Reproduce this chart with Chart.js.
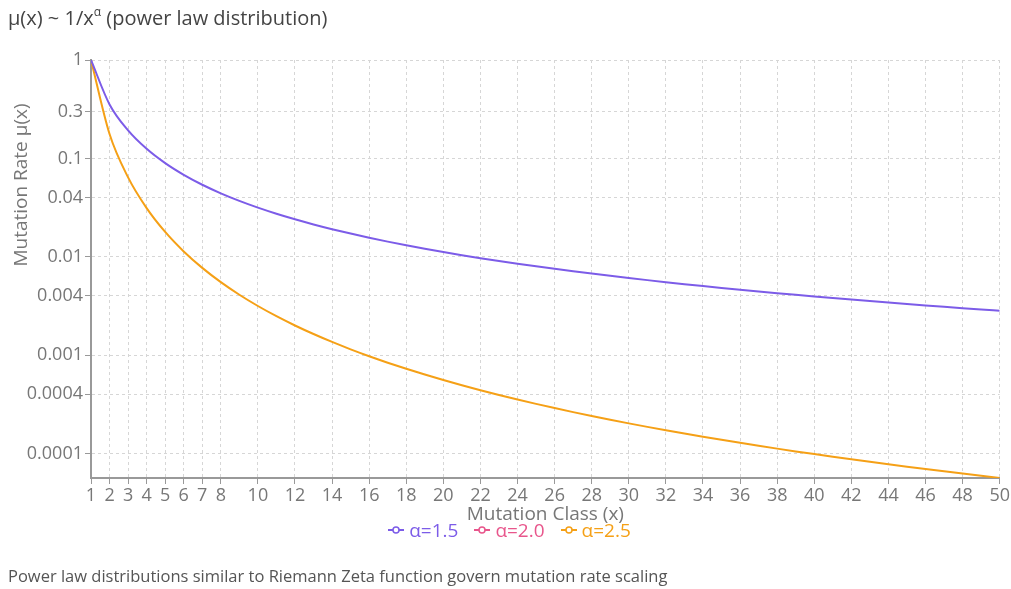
<!DOCTYPE html>
<html>
<head>
<meta charset="utf-8">
<script src="https://cdn.jsdelivr.net/npm/chart.js@4.4.1/dist/chart.umd.min.js"></script>
<style>
  body { margin: 0; background: #fff; font-family: "Open Sans", sans-serif; }
  #wrap { position: relative; width: 1011px; height: 589px; overflow: hidden; }
  #chart { position: absolute; left: 0; top: 0; }
  #title { position: absolute; left: 8px; top: 4px; font-size: 20px; color: #444; white-space: nowrap; }
  #title sup { font-size: 12px; position: relative; top: -1px; }
  #legend { position: absolute; left: 0; width: 1011px; top: 517px; display: flex; justify-content: center; font-size: 19px; }
  #legend span.item { display: inline-flex; align-items: center; margin: 0 4px; padding-left: 8px; }
  #legend svg { margin-right: 5px; }
  #footer { position: absolute; left: 8px; top: 564px; font-size: 16.5px; color: #555; white-space: nowrap; }
</style>
</head>
<body>
<div id="wrap">
  <canvas id="chart" width="1011" height="589"></canvas>
  <div id="title">μ(x) ~ 1/x<sup>α</sup> (power law distribution)</div>
  <div id="legend"></div>
  <div id="footer">Power law distributions similar to Riemann Zeta function govern mutation rate scaling</div>
</div>
<script>
const classes = [1,2,3,4,5,6,7,8,9,10,11,12,13,14,15,16,17,18,19,20,21,22,23,24,25,26,27,28,29,30,31,32,33,34,35,36,37,38,39,40,41,42,43,44,45,46,47,48,49,50];

const alpha15 = [1, 0.35355, 0.19245, 0.125, 0.089443, 0.068041, 0.053995, 0.044194, 0.037037, 0.031623,
  0.027410, 0.024056, 0.021335, 0.019090, 0.017213, 0.015625, 0.014267, 0.013095, 0.012074, 0.011180,
  0.010391, 0.0096910, 0.0090658, 0.0085052, 0.008, 0.0075429, 0.0071278, 0.0067494, 0.0064033, 0.0060858,
  0.0057937, 0.0055243, 0.0052751, 0.0050441, 0.0048294, 0.0046296, 0.0044432, 0.0042690, 0.0041059, 0.0039528,
  0.0038091, 0.0036739, 0.0035465, 0.0034263, 0.0033127, 0.0032053, 0.0031035, 0.0030070, 0.0029155, 0.0028284];

const alpha20 = [];

const alpha25 = [1, 0.17678, 0.064150, 0.03125, 0.017889, 0.011340, 0.0077136, 0.0055243, 0.0041152, 0.0031623,
  0.0024918, 0.0020047, 0.0016412, 0.0013636, 0.0011475, 0.00097656, 0.00083924, 0.00072750, 0.00063547, 0.00055902,
  0.00049481, 0.00044050, 0.00039417, 0.00035438, 0.00032, 0.00029011, 0.00026399, 0.00024105, 0.00022080, 0.00020286,
  0.00018689, 0.00017263, 0.00015985, 0.00014836, 0.00013798, 0.00012860, 0.00012009, 0.00011234, 0.00010528, 0.000098821,
  0.000092905, 0.000087474, 0.000082477, 0.000077870, 0.000073616, 0.000069680, 0.000066032, 0.000062646, 0.000059500, 0.000056569];

const xTicks = [1,2,3,4,5,6,7,8,10,12,14,16,18,20,22,24,26,28,30,32,34,36,38,40,42,44,46,48,50];
const yTicks = [1, 0.3, 0.1, 0.04, 0.01, 0.004, 0.001, 0.0004, 0.0001];

const seriesNames = ['α=1.5', 'α=2.0', 'α=2.5'];
const seriesColors = ['#7c5ce8', '#e8568c', '#f5a016'];
const seriesValues = [alpha15, alpha20, alpha25];

const font = "'Open Sans', sans-serif";

const datasets = seriesNames.map((name, i) => ({
    label: name,
    data: seriesValues[i].map((v, j) => ({ x: classes[j], y: v })),
    borderColor: seriesColors[i],
    backgroundColor: seriesColors[i],
    borderWidth: 2,
    pointRadius: 0,
    cubicInterpolationMode: 'monotone',
    fill: false
}));

// axis titles sit where the original put them, not centred on the axis
const axisTitles = {
    id: 'axisTitles',
    afterDraw(chart) {
        const ctx = chart.ctx;
        const area = chart.chartArea;
        ctx.save();
        ctx.fillStyle = '#777';
        ctx.font = "19px " + font;
        ctx.textAlign = 'center';
        ctx.textBaseline = 'middle';
        ctx.fillText('Mutation Class (x)', (area.left + area.right) / 2, 515);
        ctx.translate(22, 185);
        ctx.rotate(-Math.PI / 2);
        ctx.fillText('Mutation Rate μ(x)', 0, 0);
        ctx.restore();
    }
};

new Chart(document.getElementById('chart'), {
    type: 'line',
    data: { datasets: datasets },
    options: {
        responsive: false,
        animation: false,
        layout: { padding: { left: 0, top: 60, right: 11, bottom: 61 } },
        plugins: {
            legend: { display: false },
            tooltip: { enabled: false }
        },
        scales: {
            x: {
                type: 'linear',
                min: 1,
                max: 50,
                afterBuildTicks: scale => { scale.ticks = xTicks.map(v => ({ value: v })); },
                afterFit: scale => { scale.height = 50; },
                grid: { color: '#d6d6d6', tickColor: '#999', tickLength: 6 },
                border: { color: '#999', width: 2, dash: [3, 3] },
                ticks: { autoSkip: false, maxRotation: 0, color: '#777', font: { family: font, size: 18 }, padding: 1 }
            },
            y: {
                type: 'logarithmic',
                min: 0.0000565,
                max: 1,
                afterBuildTicks: scale => { scale.ticks = yTicks.map(v => ({ value: v })); },
                afterFit: scale => { scale.width = 91; },
                grid: { color: '#d6d6d6', tickColor: '#999', tickLength: 6 },
                border: { color: '#999', width: 2, dash: [3, 3] },
                ticks: {
                    color: '#777',
                    font: { family: font, size: 18 },
                    padding: 2,
                    callback: v => String(v)
                }
            }
        }
    },
    plugins: [axisTitles]
});

const legend = document.getElementById('legend');
seriesNames.forEach((name, i) => {
    const c = seriesColors[i];
    const item = document.createElement('span');
    item.className = 'item';
    item.style.color = c;
    item.innerHTML = '<svg width="16" height="10"><line x1="0" y1="5" x2="16" y2="5" stroke="' + c +
        '" stroke-width="2"/><circle cx="8" cy="5" r="3" fill="#fff" stroke="' + c + '" stroke-width="1.5"/></svg>' + name;
    legend.appendChild(item);
});
</script>
</body>
</html>
